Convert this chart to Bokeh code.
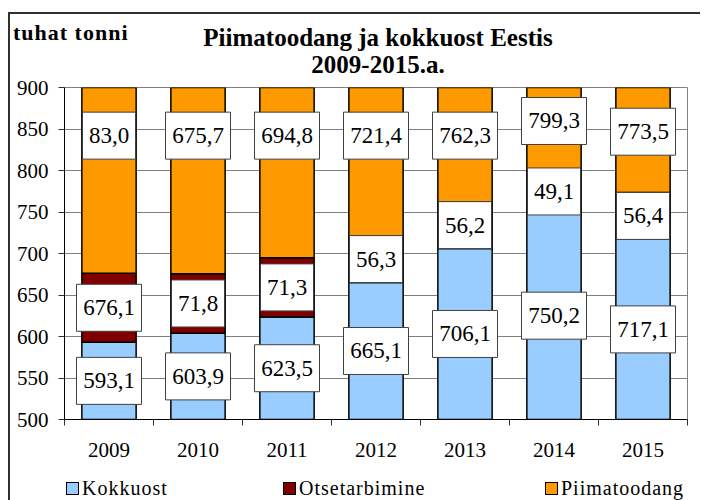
from bokeh.plotting import figure
from bokeh.layouts import column
from bokeh.models import (Range1d, LinearAxis, FixedTicker, Div, ColumnDataSource)
from bokeh.embed import file_html
from bokeh.resources import INLINE
from bokeh.core.properties import value

# ---------------- data ----------------
years = ["2009", "2010", "2011", "2012", "2013", "2014", "2015"]
kokkuost = [593.1, 603.9, 623.5, 665.1, 706.1, 750.2, 717.1]
otsetarbimine = [83.0, 71.8, 71.3, 56.3, 56.2, 49.1, 56.4]
piimatoodang = [676.1, 675.7, 694.8, 721.4, 762.3, 799.3, 773.5]
kokkuost_labels = ["593,1", "603,9", "623,5", "665,1", "706,1", "750,2", "717,1"]
otse_labels = ["676,1", "71,8", "71,3", "56,3", "56,2", "49,1", "56,4"]
piim_labels = ["83,0", "675,7", "694,8", "721,4", "762,3", "799,3", "773,5"]
y_ticks = [500, 550, 600, 650, 700, 750, 800, 850, 900]
series_names = ["Kokkuost", "Otsetarbimine", "Piimatoodang"]
colors = ["#99CCFF", "#800000", "#FF9900"]
unit_text = "tuhat tonni"
title_lines = ["Piimatoodang ja kokkuost Eestis", "2009-2015.a."]

Y0, Y1 = y_ticks[0], y_ticks[-1]
N = len(years)
xpos = [i + 0.5 for i in range(N)]          # category centres
FONT = "Liberation Serif"

W = 690
HEAD_H = 63
H = 387
FOOT_H = 36
legend_left = [56, 273, 535]                # legend item positions (px)

# ---------------- heading (unit + two-line title) ----------------
head_html = (
    f'<div style="position:relative;width:{W}px;height:{HEAD_H}px;'
    f'font-family:\'{FONT}\';color:black;font-weight:bold;">'
    f'<div style="position:absolute;left:3px;top:7px;font-size:22px;line-height:24px;'
    f'letter-spacing:1px;white-space:nowrap;">{unit_text}</div>'
    f'<div style="position:absolute;left:68px;top:10px;width:600px;text-align:center;'
    f'font-size:25px;line-height:27px;white-space:nowrap;">'
    f'{title_lines[0]}<br>{title_lines[1]}</div></div>'
)
head = Div(text=head_html, width=W, height=HEAD_H, margin=0)

# ---------------- legend (footer) ----------------
items = ""
for left, name, col in zip(legend_left, series_names, colors):
    items += (
        f'<div style="position:absolute;left:{left}px;top:13px;height:22px;'
        f'white-space:nowrap;display:flex;align-items:center;">'
        f'<span style="display:inline-block;width:11px;height:11px;background:{col};'
        f'border:1.5px solid black;margin-right:3px;"></span>'
        f'<span style="font-size:20px;line-height:22px;letter-spacing:1px;">{name}</span></div>'
    )
foot_html = (f'<div style="position:relative;width:{W}px;height:{FOOT_H}px;'
             f'font-family:\'{FONT}\';color:black;">{items}</div>')
foot = Div(text=foot_html, width=W, height=FOOT_H, margin=0)

# ---------------- plot ----------------
p = figure(x_range=Range1d(0, N), y_range=Range1d(Y0, Y1),
           width=W, height=H, output_backend="svg", toolbar_location=None,
           x_axis_location=None, margin=0,
           min_border_left=54, min_border_top=10, min_border_right=13,
           min_border_bottom=45)
p.background_fill_color = "white"
p.border_fill_color = "white"
p.outline_line_color = "#808080"
p.outline_line_width = 1

src = ColumnDataSource(dict(x=xpos, Kokkuost=kokkuost,
                            Otsetarbimine=otsetarbimine, Piimatoodang=piimatoodang))
rends = p.vbar_stack(series_names, x="x", width=0.61, source=src,
                     fill_color=colors, line_color="black", line_width=1.5)

# y axis & grid
ticker = FixedTicker(ticks=y_ticks)
yax = p.yaxis[0]
yax.ticker = ticker
yax.major_tick_out = 6
yax.major_tick_in = 0
yax.minor_tick_line_color = None
yax.axis_line_color = "black"
yax.major_tick_line_color = "#303030"
yax.major_label_standoff = 10
yax.major_label_text_font = FONT
yax.major_label_text_font_size = "21px"
yax.major_label_text_color = "black"
p.ygrid.ticker = ticker
p.ygrid.grid_line_color = "#808080"
p.ygrid.grid_line_width = 1
p.xgrid.visible = False

# x axis: ticks at category boundaries, labels at centres
tick_axis = LinearAxis(ticker=FixedTicker(ticks=list(range(N + 1))),
                       major_tick_out=6, major_tick_in=0,
                       minor_tick_line_color=None,
                       major_label_text_font_size="1px", major_label_text_color=None,
                       major_label_standoff=0,
                       axis_line_color="black", major_tick_line_color="#303030")
lab_axis = LinearAxis(ticker=FixedTicker(ticks=xpos),
                      major_label_overrides={x: y for x, y in zip(xpos, years)},
                      major_tick_line_color=None, minor_tick_line_color=None,
                      axis_line_color=None,
                      major_label_standoff=11,
                      major_label_text_font=FONT,
                      major_label_text_font_size="21px",
                      major_label_text_color="black")
p.add_layout(tick_axis, "below")
p.add_layout(lab_axis, "below")

# data labels
def box_w(t):
    return 12 * len(t) + 5

kok_y = [(Y0 + k) / 2 for k in kokkuost]
ots_y = [k + o / 2 for k, o in zip(kokkuost, otsetarbimine)]
pii_y = [max((k + o + Y1) / 2 + 10, 842) for k, o in zip(kokkuost, otsetarbimine)]

for ys, labels in [(kok_y, kokkuost_labels), (ots_y, otse_labels), (pii_y, piim_labels)]:
    p.rect(x=xpos, y=ys, width=[box_w(t) for t in labels], height=47,
           width_units="screen", height_units="screen",
           fill_color="white", line_color="#404040", line_width=1)
    p.text(x=xpos, y=ys, text=labels, text_align="center", text_baseline="middle",
           text_font=value(FONT), text_font_size="23px", text_color="black")

page = column(head, p, foot, spacing=0,
              styles={"box-sizing": "content-box",
                      "margin-top": "12px", "margin-left": "8px",
                      "border-top": "2px solid #303030",
                      "border-left": "2px solid #303030"})

open("out.html", "w").write(file_html(page, INLINE))
